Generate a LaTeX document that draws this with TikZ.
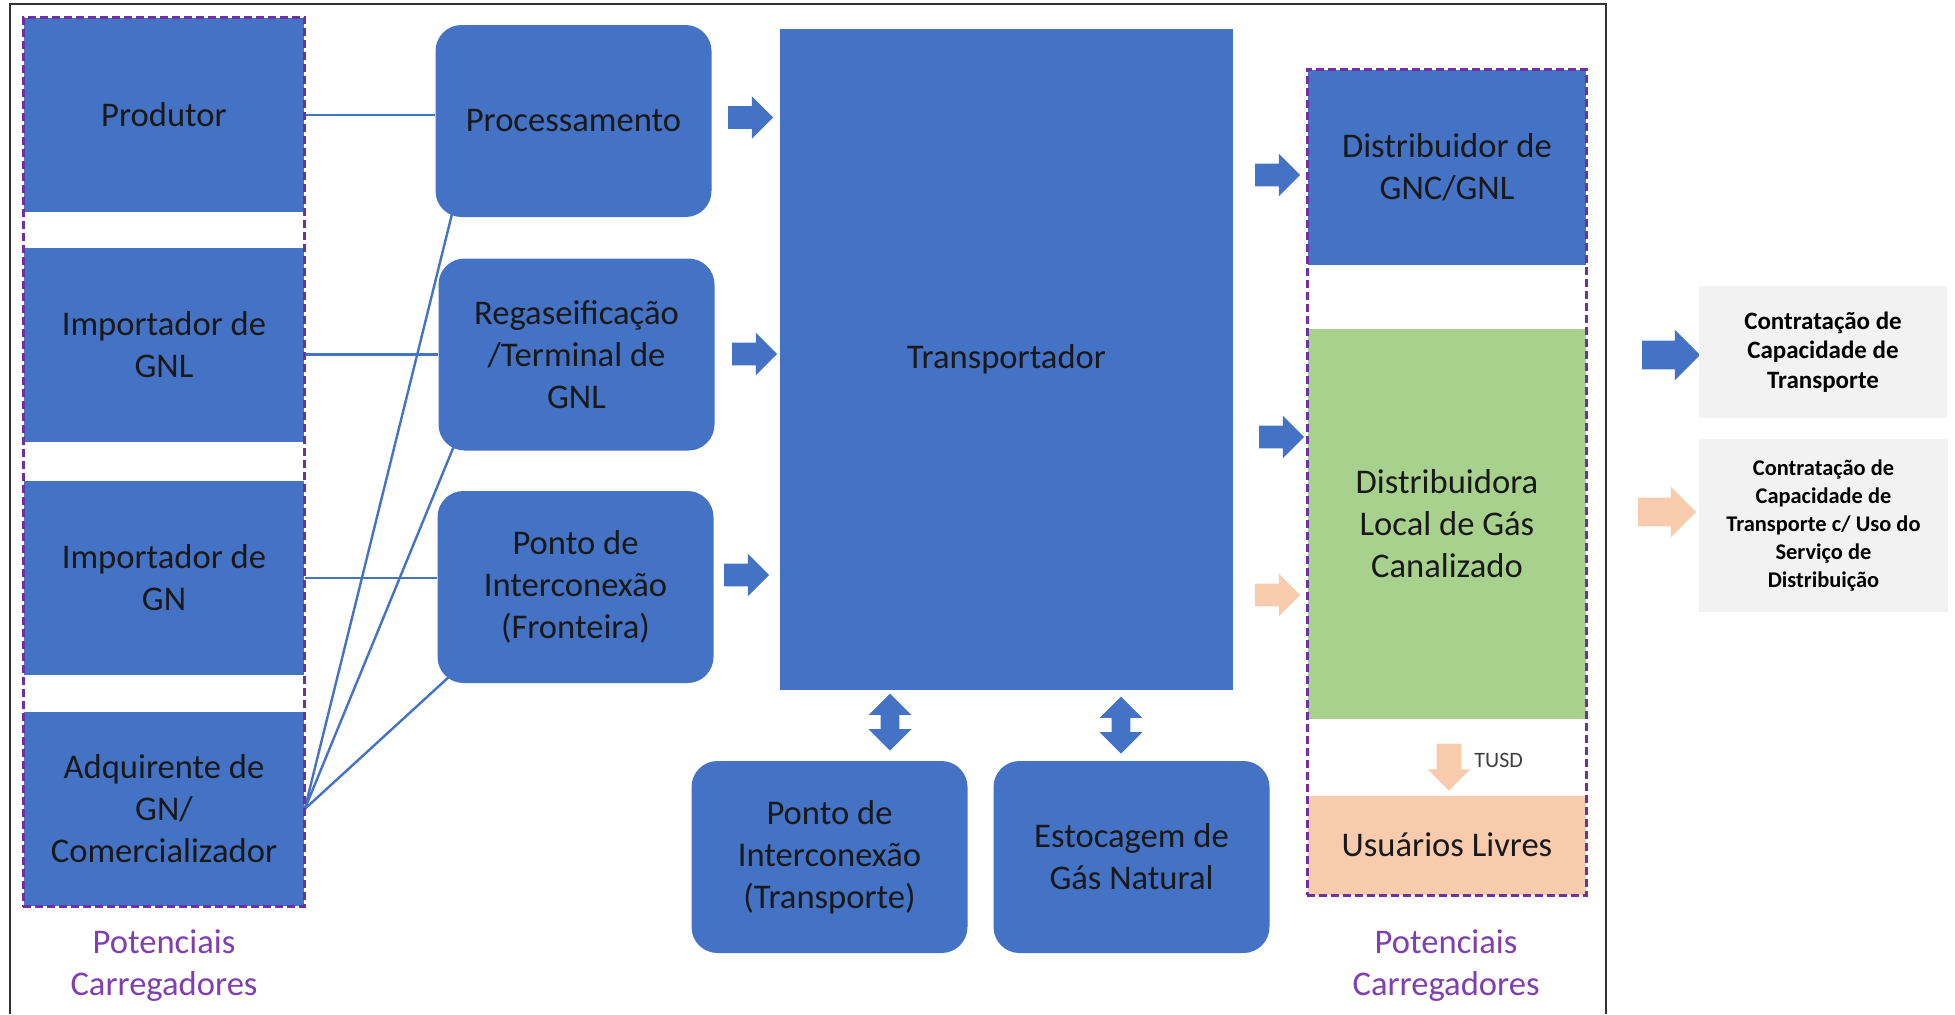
\documentclass[tikz,border=0pt]{standalone}
\usepackage{fontspec}
\setmainfont{Carlito}
\usetikzlibrary{shapes.arrows,fit,positioning,backgrounds,calc}

\definecolor{boxblue}{RGB}{68,114,196}
\definecolor{locgreen}{RGB}{169,209,142}
\definecolor{freepeach}{RGB}{248,203,173}
\definecolor{leggray}{RGB}{242,242,242}
\definecolor{potviolet}{RGB}{112,48,160}
\definecolor{potlabeltext}{RGB}{128,62,176}

\tikzset{every picture/.style={line width=0.75pt}}
\tikzset{
  bigtxt/.style={font=\fontsize{17.3}{21}\selectfont, text=black!90, align=center},
  agent/.style={rectangle, fill=boxblue, bigtxt, inner sep=0pt, minimum width=140pt, minimum height=97pt},
  facility/.style={rectangle, rounded corners=13pt, fill=boxblue, bigtxt, inner sep=0pt, minimum width=138pt, minimum height=96pt},
  potgroup/.style={draw=potviolet, line width=1.4pt, dash pattern=on 4pt off 2pt, inner sep=0pt},
  potlabel/.style={bigtxt, text=potlabeltext},
  link/.style={draw=boxblue, line width=1.2pt},
  flowarrow/.style={single arrow, draw=none, inner sep=5.5pt, minimum height=22.5pt, single arrow head extend=5pt},
  legarrow/.style={flowarrow, inner sep=7pt, minimum height=29pt, single arrow head extend=5.5pt},
  twoway/.style={double arrow, fill=boxblue, draw=none, inner sep=4.5pt, minimum height=28.5pt, double arrow head extend=6pt, shape border rotate=90},
  legbox/.style={rectangle, fill=leggray, inner sep=0pt, align=center, text=black, font=\bfseries\fontsize{12.5}{14.8}\selectfont},
}

\begin{document}
\begin{tikzpicture}[x=0.5pt,y=0.5pt,yscale=-1,xscale=1]
\useasboundingbox (0,0) rectangle (1955,1014);

%Shape: Frame
\draw [color=black!80, line width=1.1pt] (10,1014) -- (10,4) -- (1606,4) -- (1606,1014);

%Shape: Rectangle (carregadores, left)
\node [agent] (prod) at (164,115) {Produtor};
\node [agent] (imgnl) at (164,345) {Importador de\\GNL};
\node [agent] (imgn) at (164,578) {Importador de\\GN};
\node [agent] (adq) at (164,809) {Adquirente de\\GN/\\Comercializador};
\node [potgroup, fit=(prod)(adq)] (leftgrp) {};
% Text Node
\node [potlabel] (leftlbl) at (164,966) {Potenciais\\Carregadores};

%Shape: Rounded Rect
\node [facility] (proc) at (573.5,121) {Processamento};
\node [facility] (regas) at (576.5,354.5) {Regaseificação\\/Terminal de\\GNL};
\node [facility] (pfront) at (575.5,587) {Ponto de\\Interconexão\\(Fronteira)};
\node [facility] (pitrans) at (829.5,857) {Ponto de\\Interconexão\\(Transporte)};
\node [facility] (estoc) at (1131.5,857) {Estocagem de\\Gás Natural};

%Shape: Rectangle (transportador)
\node [agent, minimum width=226.5pt, minimum height=330.5pt] (transp) at (1006.5,359.5) {Transportador};

%Shape: Rectangle (carregadores, right)
\node [agent, minimum width=139pt, minimum height=97.5pt] (distgnc) at (1447,167.5) {Distribuidor de\\GNC/GNL};
\node [agent, fill=locgreen, minimum width=139pt, minimum height=195pt] (distloc) at (1447,524) {Distribuidora\\Local de Gás\\Canalizado};
\node [agent, fill=freepeach, minimum width=139pt, minimum height=49.5pt] (usuar) at (1447,845) {Usuários Livres};
\node [potgroup, fit=(distgnc)(usuar)] (rightgrp) {};
% Text Node
\node [potlabel] (rightlbl) at (1446,966) {Potenciais\\Carregadores};

%Straight Lines
\begin{pgfonlayer}{background}
\draw [link] (prod.east) -- (prod.east -| proc.west);
\draw [link] (regas.west -| imgnl.east) -- (regas.west);
\draw [link] (imgn.east) -- (imgn.east -| pfront.west);
\draw [link] (adq.east) -- ($(proc.south west)!12pt!(proc.center)$);
\draw [link] (adq.east) -- ($(regas.south west)!12pt!(regas.center)$);
\draw [link] (adq.east) -- ($(pfront.south west)!12pt!(pfront.center)$);
\end{pgfonlayer}

%Block Arrows
\node [flowarrow, fill=boxblue] (ar1) at (745,117.5) {};
\node [flowarrow, fill=boxblue] (ar2) at (749,354) {};
\node [flowarrow, fill=boxblue] (ar3) at (741,575) {};
\node [flowarrow, fill=boxblue] (ar4) at (1272,175) {};
\node [flowarrow, fill=boxblue] (ar5) at (1276,437) {};
\node [flowarrow, fill=freepeach] (ar6) at (1272,595) {};
\node [twoway] (dw1) at (890,722) {};
\node [twoway] (dw2) at (1121,725) {};
\node [flowarrow, fill=freepeach, shape border rotate=270, inner sep=6pt, minimum height=23.5pt, single arrow head extend=4.5pt] (tusdar) at (1449,761) {};
% Text Node
\node [font=\fontsize{11}{13}\selectfont, text=black!75, anchor=west, inner sep=0pt] (tusd) at (1474,760) {TUSD};

%Legend
\node [legarrow, fill=boxblue] (lgar1) at (1664,355) {};
\node [legbox, minimum width=124pt, minimum height=66pt] (leg1) at (1823,352) {Contratação de\\Capacidade de\\Transporte};
\node [legarrow, fill=freepeach] (lgar2) at (1660,512) {};
\node [legbox, minimum width=124.5pt, minimum height=86.5pt, font=\bfseries\fontsize{11.2}{14}\selectfont] (leg2) at (1823.5,525.5) {Contratação de\\Capacidade de\\Transporte c/ Uso do\\Serviço de\\Distribuição};

\end{tikzpicture}
\end{document}
